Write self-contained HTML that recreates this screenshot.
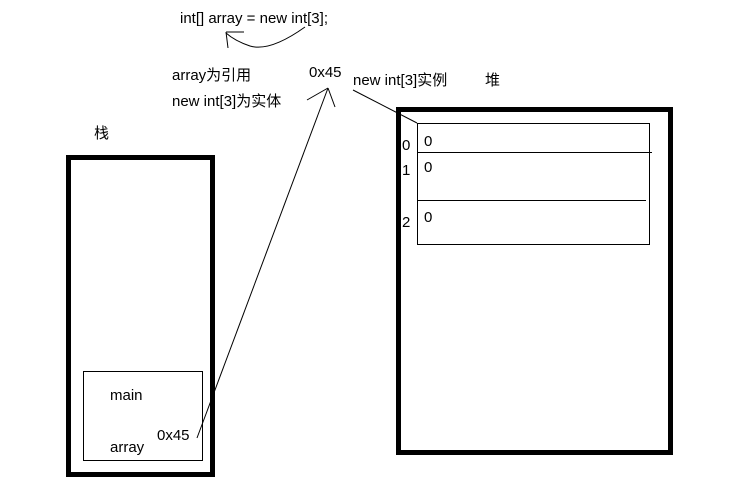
<!DOCTYPE html>
<html><head><meta charset="utf-8"><style>
body{margin:0;background:#fff;}
svg{display:block;}
text{font-family:"Liberation Sans","Noto Sans CJK SC",sans-serif;font-size:15px;fill:#000;}
</style></head><body>
<svg width="748" height="497" viewBox="0 0 748 497" xmlns="http://www.w3.org/2000/svg">
<rect width="748" height="497" fill="#fff"/>
<text x="180" y="23">int[] array = new int[3];</text>
<path d="M305 27 Q270 52 250 46 Q235 41 226 33" fill="none" stroke="#000" stroke-width="1"/>
<line x1="226" y1="32" x2="244" y2="32" stroke="#000"/>
<line x1="226" y1="32" x2="228" y2="48" stroke="#000"/>
<text x="172" y="80">array为引用</text>
<text x="172" y="106">new int[3]为实体</text>
<text x="309" y="77">0x45</text>
<text x="353" y="85">new int[3]实例</text>
<text x="485" y="85">堆</text>
<text x="94" y="138">栈</text>
<rect x="68.5" y="157.5" width="144" height="317" fill="none" stroke="#000" stroke-width="5"/>
<rect x="398.5" y="109.5" width="272" height="343" fill="none" stroke="#000" stroke-width="5"/>
<rect x="83.5" y="371.5" width="119" height="89" fill="none" stroke="#000"/>
<text x="110" y="400">main</text>
<text x="110" y="452">array</text>
<text x="157" y="440">0x45</text>
<line x1="197" y1="438" x2="328" y2="88" stroke="#000"/>
<line x1="328" y1="88" x2="307" y2="100" stroke="#000"/>
<line x1="328" y1="88" x2="335" y2="107" stroke="#000"/>
<line x1="353" y1="90" x2="417" y2="123" stroke="#000"/>
<rect x="417.5" y="123.5" width="232" height="121" fill="none" stroke="#000"/>
<line x1="417" y1="152.5" x2="652" y2="152.5" stroke="#000"/>
<line x1="417" y1="200.5" x2="646" y2="200.5" stroke="#000"/>
<text x="402" y="150">0</text>
<text x="402" y="175">1</text>
<text x="402" y="227">2</text>
<text x="424" y="146">0</text>
<text x="424" y="172">0</text>
<text x="424" y="222">0</text>
</svg>
</body></html>
